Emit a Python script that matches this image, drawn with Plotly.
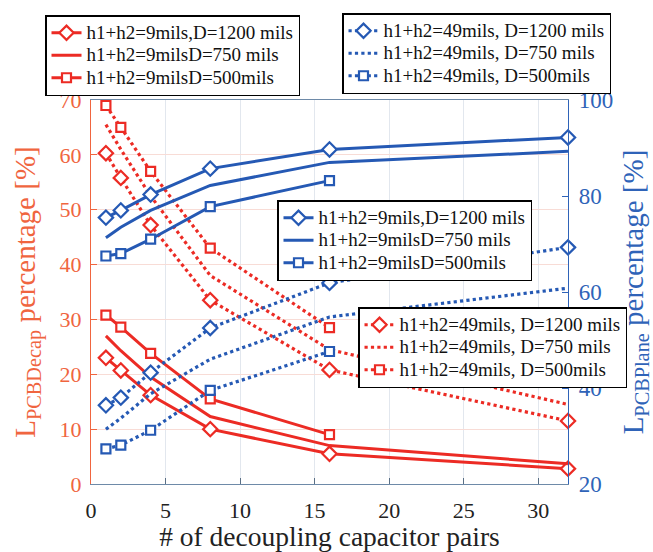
import plotly.graph_objects as go

x_full = [1, 2, 4, 8, 16, 32]
x_short = [1, 2, 4, 8, 16]

# Left axis (L_PCBDecap %) - red
r9_1200 = [23.0, 20.7, 16.2, 10.0, 5.5, 2.8]
r9_750 = [27.0, 24.3, 19.5, 12.3, 7.0, 3.7]
r9_500 = [30.8, 28.6, 23.8, 15.5, 9.0]
r49_1200 = [60.3, 55.8, 47.2, 33.5, 20.8, 11.5]
r49_750 = [65.5, 61.0, 52.5, 38.0, 24.5, 14.5]
r49_500 = [69.0, 65.0, 57.0, 43.0, 28.5]

# Right axis (L_PCBPlane %) - blue
b9_1200 = [75.5, 77.0, 80.3, 85.7, 89.7, 92.2]
b9_750 = [71.3, 73.5, 77.0, 82.2, 87.0, 89.3]
b9_500 = [67.5, 68.0, 71.0, 77.8, 83.2]
b49_1200 = [36.4, 38.0, 43.2, 52.5, 61.9, 69.3]
b49_750 = [31.4, 33.7, 38.8, 46.0, 54.8, 60.8]
b49_500 = [27.3, 28.1, 31.2, 39.5, 47.6]

names_r9 = ["h1+h2=9mils,D=1200 mils", "h1+h2=9milsD=750 mils", "h1+h2=9milsD=500mils"]
names_b49 = ["h1+h2=49mils, D=1200 mils", "h1+h2=49mils, D=750 mils", "h1+h2=49mils, D=500mils"]
names_b9 = ["h1+h2=9mils,D=1200 mils", "h1+h2=9milsD=750 mils", "h1+h2=9milsD=500mils"]
names_r49 = ["h1+h2=49mils, D=1200 mils", "h1+h2=49mils, D=750 mils", "h1+h2=49mils, D=500mils"]

RED = "#ec2b24"
BLUE = "#2559b4"
RED_AX = "#f0653f"
BLUE_AX = "#2f63b8"
FONT = "'Liberation Serif', 'Times New Roman', 'DejaVu Serif', serif"

fig = go.Figure()


def add(xs, ys, name, color, dash, symbol, yaxis, legend):
    mode = "lines+markers" if symbol else "lines"
    fig.add_trace(go.Scatter(
        x=xs, y=ys, name='<span style="font-size:19px">' + name + '</span>',
        mode=mode, yaxis=yaxis, legend=legend,
        cliponaxis=False,
        line=dict(color=color, width=3 if dash == "solid" else 3.2, dash=dash),
        marker=dict(symbol=symbol or "circle", size=11 if symbol == "diamond" else 9,
                    color="white", line=dict(color=color, width=2.2)),
    ))


add(x_full, r9_1200, names_r9[0], RED, "solid", "diamond", "y", "legend")
add(x_full, r9_750, names_r9[1], RED, "solid", None, "y", "legend")
add(x_short, r9_500, names_r9[2], RED, "solid", "square", "y", "legend")

add(x_full, b49_1200, names_b49[0], BLUE, "dot", "diamond", "y2", "legend2")
add(x_full, b49_750, names_b49[1], BLUE, "dot", None, "y2", "legend2")
add(x_short, b49_500, names_b49[2], BLUE, "dot", "square", "y2", "legend2")

add(x_full, b9_1200, names_b9[0], BLUE, "solid", "diamond", "y2", "legend3")
add(x_full, b9_750, names_b9[1], BLUE, "solid", None, "y2", "legend3")
add(x_short, b9_500, names_b9[2], BLUE, "solid", "square", "y2", "legend3")

add(x_full, r49_1200, names_r49[0], RED, "dot", "diamond", "y", "legend4")
add(x_full, r49_750, names_r49[1], RED, "dot", None, "y", "legend4")
add(x_short, r49_500, names_r49[2], RED, "dot", "square", "y", "legend4")

L, R, T, B = 91, 85, 100, 68
W, H = 653, 552
pw, ph = W - L - R, H - T - B


def px(xp):
    return (xp - L) / pw


def py(yp):
    return (H - B - yp) / ph


leg_common = dict(bgcolor="white", bordercolor="black", borderwidth=1.5,
                  font=dict(family=FONT, size=15, color="#111111"),
                  xanchor="left", yanchor="top", tracegroupgap=0, itemwidth=30)

fig.update_layout(
    width=W, height=H,
    margin=dict(l=L, r=R, t=T, b=B, autoexpand=False),
    paper_bgcolor="white", plot_bgcolor="white",
    font=dict(family=FONT, size=20),
    legend=dict(x=px(45), y=py(15), **leg_common),
    legend2=dict(x=px(342), y=py(13), **leg_common),
    legend3=dict(x=px(277), y=py(200), **leg_common),
    legend4=dict(x=px(358), y=py(307), **leg_common),
    xaxis=dict(
        range=[0, 32], tickvals=[0, 5, 10, 15, 20, 25, 30],
        showgrid=True, gridcolor="#e2e7ee", gridwidth=1,
        showline=True, linecolor="#6e8aa8", linewidth=1, mirror=True,
        ticks="inside", ticklen=6, tickcolor="#5a6f85",
        tickfont=dict(family=FONT, size=22, color="#222222"),
        ticklabelstandoff=7,
        title=dict(text="# of decoupling capacitor pairs",
                   font=dict(family=FONT, size=27.5, color="#222222"), standoff=2),
        zeroline=False, automargin=False,
    ),
    yaxis=dict(
        range=[0, 70], tickvals=[0, 10, 20, 30, 40, 50, 60, 70],
        showgrid=True, gridcolor="#f8dcd6", gridwidth=1,
        showline=True, linecolor=RED_AX, linewidth=1.2,
        ticks="inside", ticklen=6, tickcolor=RED_AX,
        tickfont=dict(family=FONT, size=22, color=RED_AX),
        ticklabelstandoff=4,
        title=dict(text="L<sub>PCBDecap</sub> percentage [%]",
                   font=dict(family=FONT, size=29, color=RED_AX)),
        zeroline=False, automargin=False,
    ),
    yaxis2=dict(
        range=[20, 100], tickvals=[20, 40, 60, 80, 100],
        overlaying="y", side="right",
        showgrid=False,
        showline=True, linecolor=BLUE_AX, linewidth=1.2,
        ticks="inside", ticklen=6, tickcolor=BLUE_AX,
        tickfont=dict(family=FONT, size=23, color=BLUE_AX),
        ticklabelstandoff=5,
        title=dict(text="L<sub>PCBPlane</sub> percentage [%]",
                   font=dict(family=FONT, size=29, color=BLUE_AX)),
        zeroline=False, automargin=False,
    ),
)

fig.write_html("out.html")
